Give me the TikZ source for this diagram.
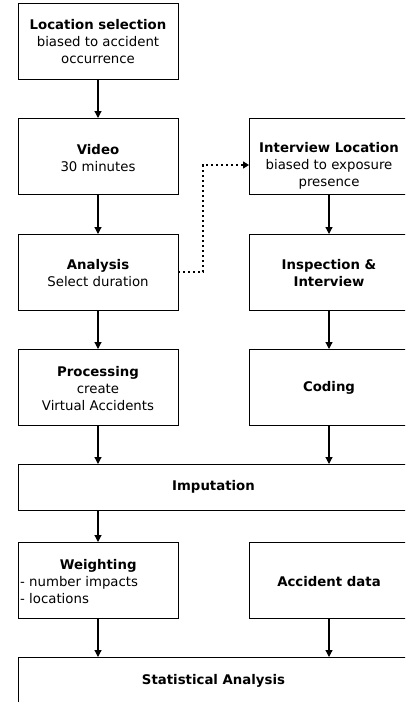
\documentclass[tikz,border=0pt]{standalone}
\usepackage{fontspec}
\setmainfont{DejaVu Sans}
\usetikzlibrary{arrows.meta}
\begin{document}
\begin{tikzpicture}[x=1pt,y=1pt,
  box/.style={draw=black, line width=1pt, fill=white, minimum width=160pt, minimum height=76pt, inner sep=0pt, outer sep=0pt},
  wide/.style={draw=black, line width=1pt, fill=white, minimum width=391pt, minimum height=46pt, inner sep=0pt, outer sep=0pt},
  txt/.style={align=center, inner sep=0pt, font=\fontsize{13.3}{17}\selectfont},
  flow/.style={line width=1.2pt, -{Triangle[length=7pt,width=7pt]}},
  dot/.style={line width=1.3pt, dash pattern=on 2.4pt off 2.6pt, -{Triangle[length=6pt,width=7pt]}}
]
\clip (0,0) rectangle (405,-702);
\fill[white] (0,0) rectangle (405,-702);
% left column
\node[box] (loc) at (98,-41) {};
\node[txt] (loct) at (98,-42) {\textbf{Location selection}\\biased to accident\\occurrence};
\node[box] (vid) at (98,-156) {};
\node[txt] (vidt) at (98,-158) {\textbf{Video}\\30 minutes};
\node[box] (ana) at (98,-272) {};
\node[txt] (anat) at (98,-273) {\textbf{Analysis}\\Select duration};
\node[box] (proc) at (98,-387) {};
\node[txt] (proct) at (98,-389) {\textbf{Processing}\\create\\Virtual Accidents};
% right column
\node[box] (intv) at (329,-156) {};
\node[txt] (intvt) at (329,-166) {\textbf{Interview Location}\\biased to exposure\\presence};
\node[box] (insp) at (329,-272) {};
\node[txt] (inspt) at (329,-273) {\textbf{Inspection \&}\\\textbf{Interview}};
\node[box] (cod) at (329,-387) {};
\node[txt] (codt) at (329,-388) {\textbf{Coding}};
% imputation
\node[wide] (imp) at (213.5,-487) {};
\node[txt] (impt) at (213.5,-487) {\textbf{Imputation}};
\node[box] (wei) at (98,-580) {};
\node[txt,align=left] (weit) at (20,-582) [anchor=west] {\makebox[156pt][c]{\textbf{Weighting}}\\- number impacts\\- locations};
\node[box] (acc) at (329,-580) {};
\node[txt] (acct) at (329,-582) {\textbf{Accident data}};
\node[draw=black, line width=1pt, fill=white, minimum width=391pt, minimum height=60pt, inner sep=0pt, outer sep=0pt] (stat) at (213.5,-687) {};
\node[txt] (statt) at (213.5,-681) {\textbf{Statistical Analysis}};
% arrows
\draw[flow] (loc.south) -- (vid.north);
\draw[flow] (vid.south) -- (ana.north);
\draw[flow] (ana.south) -- (proc.north);
\draw[flow] (intv.south) -- (insp.north);
\draw[flow] (insp.south) -- (cod.north);
\draw[flow] (proc.south) -- (proc.south |- imp.north);
\draw[flow] (cod.south) -- (cod.south |- imp.north);
\draw[flow] (wei.north |- imp.south) -- (wei.north);
\draw[flow] (wei.south) -- (wei.south |- stat.north);
\draw[flow] (acc.south) -- (acc.south |- stat.north);
\coordinate (din) at ([yshift=-9pt]intv.west);
\draw[dot] (ana.east) -- ++(25,0) |- (din);
\end{tikzpicture}
\end{document}
